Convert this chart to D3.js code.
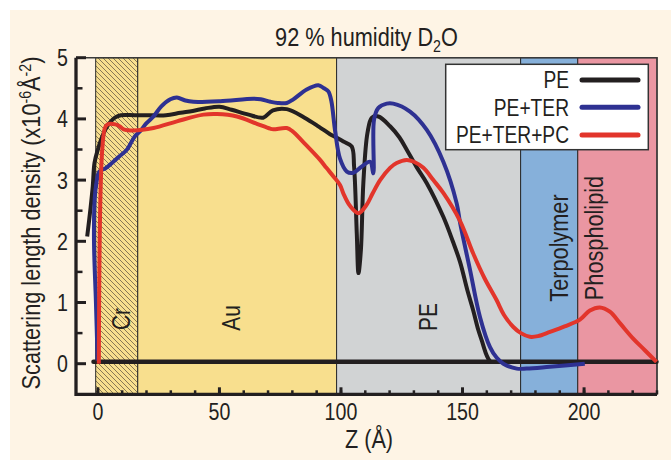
<!DOCTYPE html>
<html><head><meta charset="utf-8">
<script src="https://cdn.jsdelivr.net/npm/d3@7"></script>
<style>
html,body{margin:0;padding:0;background:#fff;}
svg{display:block;}
text{font-family:"Liberation Sans",Arial,Helvetica,sans-serif;fill:#231f20;}
</style>
</head><body>
<svg id="chart" width="671" height="460"></svg>
<script>
// ---------------- data ----------------
const titleMain = "92 % humidity D";
const titleSub = "2";
const titleEnd = "O";
const xLabel = "Z (Å)";
const yLabelParts = ["Scattering length density (x10", "-6", "Å", "-2", ")"];
const xTicksMajor = [0, 50, 100, 150, 200];
const xTicksMinor = [0,10,20,30,40,50,60,70,80,90,100,110,120,130,140,150,160,170,180,190,200,210,220,230];
const yTicksMajor = [0, 1, 2, 3, 4, 5];
const yTicksMinor = [0.5, 1.5, 2.5, 3.5, 4.5];

const regionNames = ["Cr", "Au", "PE", "Terpolymer", "Phospholipid"];
const regionStart = [-0.9, 16.4, 98.2, 173.9, 197.4];
const regionEnd   = [16.4, 98.2, 173.9, 197.4, 230];

const seriesNames = ["PE", "PE+TER", "PE+TER+PC"];

const pe = [[-4.4,2.08],[-3,2.55],[-2.1,2.9],[-1.4,3.28],[0,3.5],[1.3,3.66],[3,3.82],[4.7,3.93],[7,4.02],[9.5,4.06],[15,4.06],[20.7,4.06],[28,4.06],[34,4.1],[39,4.13],[44,4.17],[50,4.2],[55,4.15],[62,4.07],[68,4.02],[72,4.14],[77.7,4.16],[85,4.02],[91,3.87],[95.5,3.75],[98.3,3.69],[101,3.63],[104.4,3.55],[105.4,3.22],[106.5,2.13],[107.2,1.48],[108.2,1.86],[109.2,2.95],[110.9,3.77],[112.7,4.02],[115.4,4.04],[120.2,3.88],[124,3.7],[127,3.5],[131,3.22],[135.3,2.95],[142.1,2.4],[146,2.0],[149,1.66],[152,1.2],[154.4,0.87],[156.5,0.55],[157.9,0.38],[159.5,0.18],[160.6,0.08],[161.5,0.03]];

const peTer = [[-0.1,0.05],[-0.8,1.0],[-1.6,2.0],[-1.3,2.7],[-0.6,2.95],[0.6,3.14],[3.4,3.2],[8.9,3.39],[12,3.5],[15.1,3.71],[17.4,3.8],[20,3.93],[22.9,4.04],[26,4.2],[29.8,4.32],[32.5,4.35],[36,4.3],[39.3,4.28],[50.3,4.29],[64,4.33],[67,4.32],[71,4.28],[74,4.26],[77.7,4.26],[80.4,4.32],[85.9,4.48],[90.7,4.55],[93,4.5],[94.8,4.45],[96,4.3],[97.6,3.8],[99.6,3.35],[102.4,3.14],[105.1,3.12],[108.5,3.22],[112,3.3],[113.3,3.11],[113.6,3.99],[115.4,4.18],[118.8,4.25],[121.5,4.25],[128.4,4.12],[135.3,3.82],[142.1,3.3],[147.6,2.62],[149,2.3],[153,1.55],[157.2,0.76],[161.3,0.27],[164,0.1],[166.8,0],[172.3,-0.08],[176.4,-0.08],[185.9,-0.05],[200.3,0.0]];

const peTerPc = [[0.4,0],[1.8,3.5],[3.2,3.88],[4.8,3.92],[7.2,3.91],[8.9,3.88],[10.6,3.83],[14.7,3.81],[22.9,3.85],[32.5,3.96],[43.4,4.07],[49,4.08],[57.2,4.04],[65.4,3.92],[70.9,3.84],[72.2,3.83],[77.7,3.85],[80,3.8],[84.5,3.62],[91.4,3.33],[94,3.2],[96.9,3.06],[99.6,2.92],[101,2.78],[103.7,2.58],[107.2,2.46],[110.6,2.6],[113,2.78],[116.1,3.0],[120.2,3.2],[122.9,3.28],[127,3.33],[130,3.3],[133.9,3.2],[138,3.0],[142.1,2.79],[149,2.33],[154.4,1.8],[159,1.4],[164,1.04],[167,0.8],[170.9,0.6],[174,0.5],[177.7,0.44],[181,0.45],[186,0.52],[192,0.61],[198.3,0.72],[202.4,0.87],[206.5,0.92],[210.6,0.85],[215,0.65],[220.2,0.41],[225,0.22],[229.8,0.03]];

const baseline = [[-1.8,0.03],[229.8,0.03]];

// ---------------- styles / layout ----------------
const SX = 0.835; // horizontal text compression (narrow face)
const regionFill = {"Cr":"url(#hatch)","Au":"#f8df8e","PE":"#d1d3d4","Terpolymer":"#86b0da","Phospholipid":"#ea96a2"};
const regionLabelPos = {"Cr":[130,319],"Au":[240,318],"PE":[437,317],"Terpolymer":[568,248],"Phospholipid":[603,238]};
const seriesColor = ["#231f20","#2e3192","#e2352b"];

const svg = d3.select("#chart");
const defs = svg.append("defs");
const pat = defs.append("pattern").attr("id","hatch").attr("patternUnits","userSpaceOnUse")
  .attr("width",5).attr("height",5);
pat.append("rect").attr("width",5).attr("height",5).attr("fill","#f8df8e");
pat.append("path").attr("d","M0,0L5,5M-1,4L1,6M4,-1L6,1").attr("stroke","#4a4036").attr("stroke-width",0.65);

// cream background
svg.append("rect").attr("x",10).attr("y",10).attr("width",661).attr("height",450).attr("fill","#fef4e5");

const x = d3.scaleLinear().domain([-9, 230]).range([76, 657]);
const y = d3.scaleLinear().domain([-0.5, 5]).range([394.3, 57.7]);

// regions
regionNames.forEach((n,i)=>{
  svg.append("rect").attr("x",x(regionStart[i])).attr("y",y(5))
    .attr("width",x(regionEnd[i])-x(regionStart[i])).attr("height",y(-0.5)-y(5))
    .attr("fill",regionFill[n]).attr("stroke","#2a2a2a").attr("stroke-width",1);
});

function txt(px, py, str, size, anchor, rot){
  const g = svg.append("g").attr("transform",`translate(${px},${py})${rot?` rotate(${rot})`:""} scale(${SX},1)`);
  return g.append("text").attr("text-anchor",anchor).style("font-size",size+"px").text(str);
}

// region labels
regionNames.forEach(n=>{
  const p = regionLabelPos[n];
  txt(p[0], p[1], n, (n==="Terpolymer"||n==="Phospholipid")?26:25, "middle", -90);
});

// top / right frame
svg.append("path").attr("d",`M${x(-9)},${y(5)}H${x(230)}V${y(-0.5)}`).attr("fill","none")
  .attr("stroke","#3a3a3a").attr("stroke-width",1.5);

// curves
const line = d3.line().x(d=>x(d[0])).y(d=>y(d[1])).curve(d3.curveCatmullRom.alpha(0.5));
svg.append("path").datum(baseline).attr("d",line).attr("fill","none").attr("stroke",seriesColor[0])
  .attr("stroke-width",4.5).attr("stroke-linecap","round");
[pe, peTer, peTerPc].forEach((s,i)=>{
  svg.append("path").datum(s).attr("d",line).attr("fill","none").attr("stroke",seriesColor[i])
    .attr("stroke-width",4).attr("stroke-linejoin","round").attr("stroke-linecap","butt");
});

// axes
const axisColor = "#231f20";
svg.append("path").attr("d",`M${x(-9)},${y(5)}V${y(-0.5)}H${x(230)}`).attr("fill","none")
  .attr("stroke",axisColor).attr("stroke-width",3.3);
yTicksMajor.forEach(v=>{
  svg.append("line").attr("x1",x(-9)).attr("x2",x(-9)+10).attr("y1",y(v)).attr("y2",y(v)).attr("stroke",axisColor).attr("stroke-width",3);
  txt(68, y(v), String(v), 23.5, "end").attr("dy","0.36em");
});
yTicksMinor.forEach(v=>{
  svg.append("line").attr("x1",x(-9)).attr("x2",x(-9)+6.5).attr("y1",y(v)).attr("y2",y(v)).attr("stroke",axisColor).attr("stroke-width",2.5);
});
xTicksMinor.forEach(v=>{
  svg.append("line").attr("x1",x(v)).attr("x2",x(v)).attr("y1",y(-0.5)).attr("y2",y(-0.5)-4).attr("stroke",axisColor).attr("stroke-width",2.5);
});
xTicksMajor.forEach(v=>{
  svg.append("line").attr("x1",x(v)).attr("x2",x(v)).attr("y1",y(-0.5)).attr("y2",y(-0.5)-7).attr("stroke",axisColor).attr("stroke-width",3);
  txt(x(v), 420, String(v), 23.5, "middle");
});

// title
const tt = txt(366.5, 46, "", 26, "middle");
tt.append("tspan").text(titleMain);
tt.append("tspan").attr("dy",6).style("font-size","17px").text(titleSub);
tt.append("tspan").attr("dy",-6).text(titleEnd);

// x label
txt(369, 448, xLabel, 26, "middle");

// y label
const yl = txt(40, 223, "", 26, "middle", -90);
yl.append("tspan").text(yLabelParts[0]);
yl.append("tspan").attr("dy",-9).style("font-size","17px").text(yLabelParts[1]);
yl.append("tspan").attr("dy",9).text(yLabelParts[2]);
yl.append("tspan").attr("dy",-9).style("font-size","17px").text(yLabelParts[3]);
yl.append("tspan").attr("dy",9).text(yLabelParts[4]);

// legend
svg.append("rect").attr("x",445.7).attr("y",64.3).attr("width",202.6).attr("height",85.4)
  .attr("fill","#fff").attr("stroke","#333").attr("stroke-width",1.5);
const legY = [80, 107.3, 135];
seriesNames.forEach((n,i)=>{
  txt(569, legY[i] + 8.2, n, 23, "end");
  svg.append("line").attr("x1",582).attr("x2",638).attr("y1",legY[i]).attr("y2",legY[i])
    .attr("stroke",seriesColor[i]).attr("stroke-width",5).attr("stroke-linecap","round");
});
</script>
</body></html>
